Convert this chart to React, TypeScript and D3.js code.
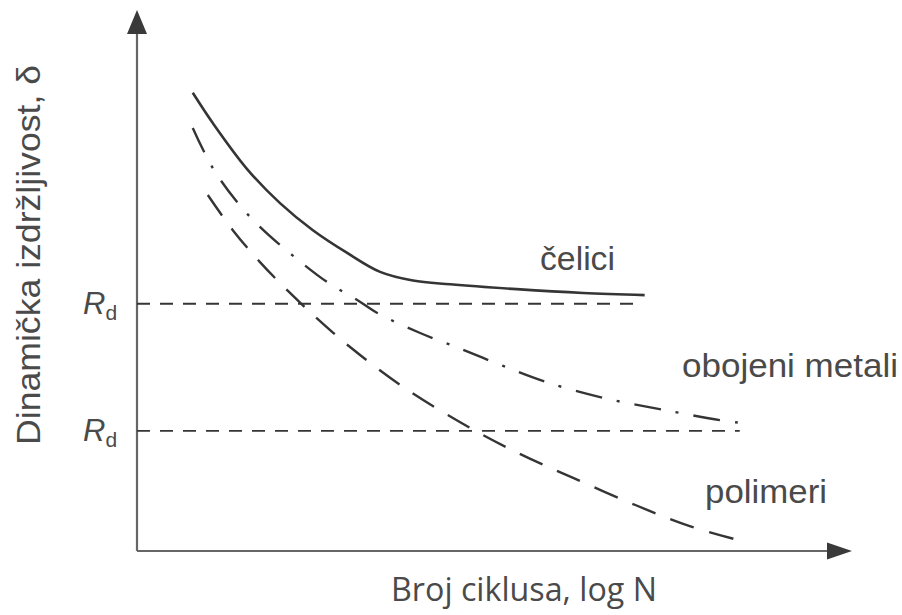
import React from 'react';
import * as d3 from 'd3';

// curve points: [log N, strength] in axis units (0..10)
const celici: [number, number][] = [
  [0.78, 8.47], [1.06, 7.91], [1.54, 7.06], [2.0, 6.43], [2.46, 5.93], [2.94, 5.51],
  [3.4, 5.16], [3.86, 5.0], [4.38, 4.93], [5.31, 4.84], [6.24, 4.77], [7.1, 4.73],
];
const obojeniMetali: [number, number][] = [
  [0.78, 7.82], [1.05, 7.1], [1.4, 6.45], [1.72, 5.99], [2.17, 5.47], [2.66, 4.97],
  [3.08, 4.64], [3.36, 4.4], [3.96, 4.03], [4.56, 3.72], [5.12, 3.42], [5.73, 3.12],
  [6.52, 2.83], [7.36, 2.61], [8.15, 2.42], [8.43, 2.37],
];
const polimeri: [number, number][] = [
  [0.99, 6.58], [1.34, 5.93], [1.72, 5.34], [2.14, 4.77], [2.56, 4.25], [2.98, 3.77],
  [3.68, 3.07], [4.52, 2.38], [5.33, 1.81], [6.1, 1.35], [6.97, 0.85], [7.73, 0.46],
  [8.5, 0.17],
];

// endurance limits: level and where the dashed line ends
const rdLevels = [4.57, 2.22];
const rdEnds = [7.0, 8.43];

const seriesLabels = ['čelici', 'obojeni metali', 'polimeri'];

const W = 902;
const H = 615;

const App = () => {
  const x = d3.scaleLinear().domain([0, 10]).range([137, 852]);
  const y = d3.scaleLinear().domain([0, 10]).range([551, 10]);

  const line = d3
    .line<[number, number]>()
    .x((d) => x(d[0]))
    .y((d) => y(d[1]))
    .curve(d3.curveCatmullRom.alpha(0.5));

  const ink = '#353535';
  const axisInk = '#666';
  const textInk = '#4a4a4a';

  // arrowheads at the axis ends
  const xTip = x(10);
  const yTip = y(10);
  const xArrow = `M${xTip},${y(0)} L${xTip - 25},${y(0) - 8.5} L${xTip - 25},${y(0) + 8.5} Z`;
  const yArrow = `M${x(0)},${yTip} L${x(0) - 10},${yTip + 24} L${x(0) + 10},${yTip + 24} Z`;

  const labelPos = [
    { x: 540, y: 270, len: 75 },
    { x: 682, y: 377, len: 216 },
    { x: 705, y: 503, len: 122 },
  ];

  return (
    <svg
      width={W}
      height={H}
      style={{ position: 'absolute', left: 0, top: 0, background: '#fff' }}
      fontFamily="'Liberation Sans', Arial, sans-serif"
    >
      {/* axes */}
      <line x1={x(0)} y1={y(0)} x2={xTip - 20} y2={y(0)} stroke={axisInk} strokeWidth={2.2} />
      <line x1={x(0)} y1={y(0)} x2={x(0)} y2={yTip + 20} stroke={axisInk} strokeWidth={2.2} />
      <path d={xArrow} fill="#3a3a3a" />
      <path d={yArrow} fill="#3a3a3a" />

      {/* R_d lines */}
      {rdLevels.map((lv, i) => (
        <g key={'rd' + i}>
          <line
            x1={x(0)}
            x2={x(rdEnds[i])}
            y1={y(lv)}
            y2={y(lv)}
            stroke={ink}
            strokeWidth={1.8}
            strokeDasharray="13,10"
          />
          <text x={83} y={y(lv) + 10} fill={textInk} fontSize={31} fontStyle="italic">
            R
            <tspan fontSize={21} fontStyle="normal" dy={6}>
              d
            </tspan>
          </text>
        </g>
      ))}

      {/* curves */}
      <path d={line(celici) || ''} fill="none" stroke={ink} strokeWidth={2.6} />
      <path
        d={line(obojeniMetali) || ''}
        fill="none"
        stroke={ink}
        strokeWidth={2.4}
        strokeDasharray="27,15,3,15"
      />
      <path
        d={line(polimeri) || ''}
        fill="none"
        stroke={ink}
        strokeWidth={2.4}
        strokeDasharray="25,16"
      />

      {/* curve labels */}
      {seriesLabels.map((t, i) => (
        <text
          key={t}
          x={labelPos[i].x}
          y={labelPos[i].y}
          fontSize={33}
          fill={textInk}
          textLength={labelPos[i].len}
          lengthAdjust="spacingAndGlyphs"
        >
          {t}
        </text>
      ))}

      {/* axis titles */}
      <text
        x={391}
        y={601}
        fontSize={33}
        fill={textInk}
        fontFamily="'Open Sans', sans-serif"
        textLength={266}
        lengthAdjust="spacingAndGlyphs"
      >
        Broj ciklusa, log N
      </text>
      <text
        transform="translate(40, 445) rotate(-90)"
        x={0}
        y={0}
        fontSize={33}
        fill={textInk}
        textLength={380}
        lengthAdjust="spacingAndGlyphs"
      >
        Dinamička izdržljivost, δ
      </text>
    </svg>
  );
};

export default App;
